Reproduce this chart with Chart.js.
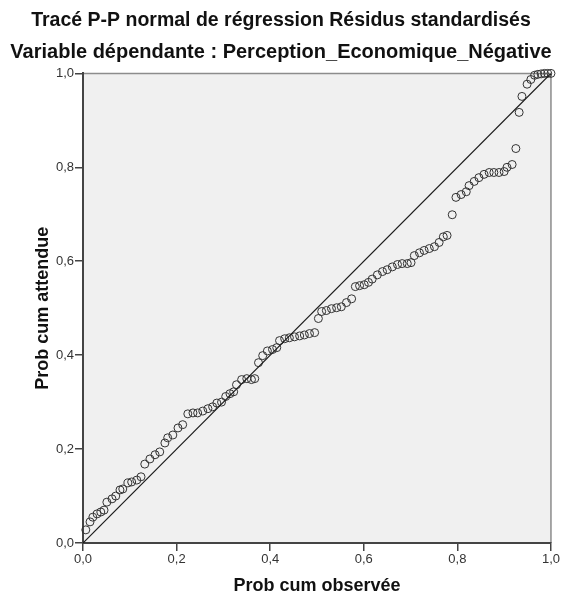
<!DOCTYPE html>
<html>
<head>
<meta charset="utf-8">
<script src="https://cdn.jsdelivr.net/npm/chart.js@4"></script>
<style>
    html, body { margin: 0; padding: 0; background: #fff; }
    #wrap { width: 561px; height: 601px; }
</style>
</head>
<body>
<div id="wrap"><canvas id="ppChart"></canvas></div>
<script>
// Prob cum observée (x) / Prob cum attendue (y)
const obsProb = [
    0.006, 0.015, 0.021, 0.030, 0.038, 0.045, 0.051, 0.062, 0.070, 0.079,
    0.085, 0.096, 0.104, 0.115, 0.124, 0.132, 0.143, 0.154, 0.164, 0.175,
    0.181, 0.192, 0.203, 0.213, 0.224, 0.235, 0.245, 0.256, 0.267, 0.277,
    0.286, 0.296, 0.305, 0.314, 0.322, 0.328, 0.339, 0.350, 0.360, 0.367,
    0.375, 0.384, 0.394, 0.405, 0.414, 0.420, 0.431, 0.441, 0.452, 0.463,
    0.473, 0.484, 0.495, 0.503, 0.510, 0.520, 0.531, 0.542, 0.552, 0.563,
    0.574, 0.582, 0.591, 0.601, 0.610, 0.618, 0.629, 0.640, 0.650, 0.661,
    0.672, 0.682, 0.693, 0.701, 0.708, 0.719, 0.729, 0.740, 0.751, 0.761,
    0.770, 0.778, 0.789, 0.797, 0.808, 0.819, 0.825, 0.836, 0.846, 0.857,
    0.868, 0.878, 0.889, 0.900, 0.906, 0.917, 0.925, 0.932, 0.938, 0.949,
    0.957, 0.965, 0.972, 0.979, 0.986, 0.993, 1.000
];
const expProb = [
    0.028, 0.045, 0.055, 0.062, 0.066, 0.070, 0.087, 0.094, 0.100, 0.113,
    0.115, 0.128, 0.130, 0.134, 0.141, 0.168, 0.179, 0.188, 0.194, 0.213,
    0.224, 0.230, 0.245, 0.252, 0.275, 0.277, 0.277, 0.281, 0.286, 0.290,
    0.298, 0.300, 0.312, 0.318, 0.322, 0.337, 0.348, 0.350, 0.348, 0.350,
    0.384, 0.399, 0.409, 0.412, 0.416, 0.431, 0.435, 0.437, 0.439, 0.441,
    0.443, 0.446, 0.448, 0.478, 0.493, 0.495, 0.499, 0.501, 0.503, 0.512,
    0.520, 0.546, 0.548, 0.550, 0.555, 0.562, 0.571, 0.578, 0.582, 0.588,
    0.593, 0.595, 0.595, 0.597, 0.612, 0.618, 0.623, 0.627, 0.631, 0.640,
    0.652, 0.655, 0.699, 0.736, 0.742, 0.748, 0.761, 0.770, 0.778, 0.785,
    0.789, 0.789, 0.789, 0.791, 0.800, 0.806, 0.840, 0.917, 0.951, 0.977,
    0.987, 0.996, 0.998, 0.999, 1.000, 1.000, 1.000
];
// droite de référence
const refLineX = [0, 1];
const refLineY = [0, 1];
const tickValues = [0, 0.2, 0.4, 0.6, 0.8, 1.0];

const FONT = "'Liberation Sans', Arial, sans-serif";

const fmtTick = v => v.toFixed(1).replace('.', ',');

// fond gris + cadre haut/droite
const plotFrame = {
    id: 'plotFrame',
    beforeDraw(chart) {
        const { ctx, chartArea: a } = chart;
        ctx.save();
        ctx.fillStyle = '#f0f0f0';
        ctx.fillRect(a.left, a.top, a.right - a.left, a.bottom - a.top);
        ctx.strokeStyle = '#8c8c8c';
        ctx.lineWidth = 1.5;
        ctx.beginPath();
        ctx.moveTo(a.left, a.top);
        ctx.lineTo(a.right, a.top);
        ctx.lineTo(a.right, a.bottom);
        ctx.stroke();
        ctx.restore();
    }
};

new Chart(document.getElementById('ppChart'), {
    type: 'scatter',
    data: {
        datasets: [
            {
                label: 'Référence',
                data: refLineX.map((x, i) => ({ x, y: refLineY[i] })),
                showLine: true,
                borderColor: '#1a1a1a',
                borderWidth: 1.2,
                pointRadius: 0,
                fill: false
            },
            {
                label: 'Résidus',
                data: obsProb.map((x, i) => ({ x, y: expProb[i] })),
                pointStyle: 'circle',
                pointRadius: 4,
                borderColor: '#333',
                borderWidth: 1,
                backgroundColor: 'rgba(0,0,0,0)',
                clip: false
            }
        ]
    },
    options: {
        responsive: true,
        maintainAspectRatio: false,
        animation: false,
        layout: { padding: { left: 10, right: 9, top: 0, bottom: 0 } },
        plugins: {
            legend: { display: false },
            tooltip: { enabled: false },
            title: {
                display: true,
                text: 'Tracé P-P normal de régression Résidus standardisés',
                color: '#111',
                font: { family: FONT, size: 19.5, weight: 'bold' },
                padding: { top: 9, bottom: 8 }
            },
            subtitle: {
                display: true,
                text: 'Variable dépendante : Perception_Economique_Négative',
                color: '#111',
                font: { family: FONT, size: 20, weight: 'bold' },
                padding: { top: 0, bottom: 9 }
            }
        },
        scales: {
            x: {
                type: 'linear',
                min: 0,
                max: 1,
                afterFit: s => { s.height = 58; },
                afterBuildTicks: s => { s.ticks = tickValues.map(v => ({ value: v })); },
                ticks: {
                    callback: fmtTick,
                    color: '#333',
                    font: { family: FONT, size: 13 },
                    padding: 1,
                    maxRotation: 0
                },
                grid: {
                    drawOnChartArea: false,
                    drawTicks: true,
                    tickLength: 8,
                    color: '#444',
                    lineWidth: 1.5
                },
                border: { display: true, color: '#444', width: 2 },
                title: {
                    display: true,
                    text: 'Prob cum observée',
                    color: '#111',
                    font: { family: FONT, size: 18, weight: 'bold' },
                    padding: { top: 0, bottom: 4 }
                }
            },
            y: {
                type: 'linear',
                min: 0,
                max: 1,
                afterFit: s => { s.width = 73; },
                afterBuildTicks: s => { s.ticks = tickValues.map(v => ({ value: v })); },
                ticks: {
                    callback: fmtTick,
                    color: '#333',
                    font: { family: FONT, size: 13 },
                    padding: 1
                },
                grid: {
                    drawOnChartArea: false,
                    drawTicks: true,
                    tickLength: 8,
                    color: '#444',
                    lineWidth: 1.5
                },
                border: { display: true, color: '#444', width: 2 },
                title: {
                    display: true,
                    text: 'Prob cum attendue',
                    color: '#111',
                    font: { family: FONT, size: 18, weight: 'bold' },
                    padding: { top: 22, bottom: 0 }
                }
            }
        }
    },
    plugins: [plotFrame]
});
</script>
</body>
</html>
